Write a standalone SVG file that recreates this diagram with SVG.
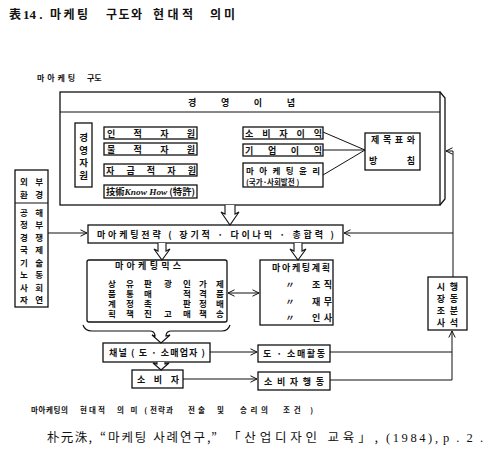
<svg xmlns="http://www.w3.org/2000/svg" width="488" height="464" viewBox="0 0 488 464">
<defs>
<style>
.b{fill:#fff;stroke:#111;stroke-width:1.3}
.l{fill:none;stroke:#111;stroke-width:1}
.h{fill:#fff;stroke:#111;stroke-width:1.1}
.t{font-family:"Noto Sans CJK KR","Noto Sans",sans-serif;font-size:9px;font-weight:700;fill:#111}
.c{text-anchor:middle}
.n{font-weight:400}
.v{writing-mode:vertical-rl;text-orientation:upright}
</style>
<marker id="a" viewBox="0 0 8 8" refX="7.5" refY="4" markerWidth="8" markerHeight="8" markerUnits="userSpaceOnUse" orient="auto-start-reverse">
<path d="M1,0.8 L7.5,4 L1,7.2" fill="none" stroke="#111" stroke-width="1"/>
</marker>
</defs>
<rect width="488" height="464" fill="#fff"/>

<g id="title" class="t" style="font-size:12px">
<text x="9" y="19">表</text>
<text x="23" y="19" style="font-family:'Liberation Serif',serif;font-size:13px">14 .</text>
<text x="50" y="19" textLength="38" lengthAdjust="spacing">마케팅</text>
<text x="106" y="19" textLength="36" lengthAdjust="spacing">구도와</text>
<text x="153" y="19" textLength="40" lengthAdjust="spacing">현대적</text>
<text x="210" y="19" textLength="25" lengthAdjust="spacing">의미</text>
</g>

<g id="structure-label" class="t" style="font-size:8px">
<text x="37" y="81" textLength="38" lengthAdjust="spacing">마아케팅</text>
<text x="87" y="81">구도</text>
</g>

<g id="mgmt-philosophy">
<rect class="b" x="60" y="92" width="380" height="113"/>
<path class="l" d="M440,92 L445,98 V199 L440,205" style="stroke-width:1.3"/>
<line class="l" x1="60" y1="112" x2="440" y2="112" style="stroke-width:1.2"/>
<text class="t" x="188" y="106" textLength="107" lengthAdjust="spacing">경영이념</text>
</g>

<g id="mgmt-resources">
<rect class="b" x="75" y="123" width="17" height="64"/>
<text class="t v" x="83.5" y="133" style="font-size:9.5px;letter-spacing:3px">경영자원</text>
</g>
<g id="human-res"><rect class="b" x="104" y="127" width="93" height="12"/><text class="t" x="107" y="136.5" textLength="88" lengthAdjust="spacing">인적자원</text></g>
<g id="material-res"><rect class="b" x="104" y="143" width="93" height="12"/><text class="t" x="107" y="152.5" textLength="88" lengthAdjust="spacing">물적자원</text></g>
<g id="capital-res"><rect class="b" x="104" y="164" width="93" height="12"/><text class="t" x="106" y="173.5" textLength="90" lengthAdjust="spacing">자금적자원</text></g>
<g id="knowhow"><rect class="b" x="104" y="185" width="93" height="13"/><text class="t" x="106" y="195" textLength="89" lengthAdjust="spacingAndGlyphs">技術<tspan style="font-family:'Liberation Serif',serif;font-style:italic">Know How</tspan> (特許)</text></g>

<g id="consumer-benefit"><rect class="b" x="243" y="127" width="80" height="12"/><text class="t" x="245" y="136.5" textLength="77" lengthAdjust="spacing">소비자이익</text></g>
<g id="corp-benefit"><rect class="b" x="243" y="144" width="80" height="12"/><text class="t" x="245" y="153.5" textLength="77" lengthAdjust="spacing">기업이익</text></g>
<g id="ethics"><rect class="b" x="243" y="163" width="80" height="24"/>
<text class="t" x="246" y="174" textLength="74" lengthAdjust="spacing" style="font-size:8.5px">마아케팅윤리</text>
<text class="t" x="246" y="185" style="font-size:7.5px">(국가·사회발전 )</text></g>
<g id="goals"><rect class="b" x="365" y="133" width="55" height="37"/>
<text class="t" x="371" y="143" textLength="44" lengthAdjust="spacing">제목표와</text>
<text class="t" x="369" y="164" textLength="46" lengthAdjust="spacing">방침</text></g>

<g id="environment" class="t" style="font-size:8.5px">
<rect class="b" x="15" y="170" width="33" height="137"/>
<line class="l" x1="15" y1="203" x2="48" y2="203" style="stroke-width:1.2"/>
<text x="20" y="185" textLength="23" lengthAdjust="spacing">외부</text>
<text x="20" y="198" textLength="23" lengthAdjust="spacing">환경</text>
<text x="20" y="216" textLength="23" lengthAdjust="spacing">공해</text>
<text x="20" y="228" textLength="23" lengthAdjust="spacing">정부</text>
<text x="20" y="240.5" textLength="23" lengthAdjust="spacing">경쟁</text>
<text x="20" y="253" textLength="23" lengthAdjust="spacing">국제</text>
<text x="20" y="265.5" textLength="23" lengthAdjust="spacing">기술</text>
<text x="20" y="278" textLength="23" lengthAdjust="spacing">노동</text>
<text x="20" y="290.5" textLength="23" lengthAdjust="spacing">사회</text>
<text x="20" y="303" textLength="23" lengthAdjust="spacing">자연</text>
</g>

<g id="strategy"><rect class="b" x="88" y="225" width="255" height="18"/>
<text class="t" x="97" y="237.5" textLength="237" lengthAdjust="spacing">마아케팅전략 ( 장기적 · 다이나믹 · 총합력 )</text></g>

<g id="marketing-mix" class="t">
<rect class="b" x="87" y="260" width="140" height="62" rx="2"/>
<path class="l" d="M83,325 Q85,331 92,331 H150 Q154,331 155,335 M166,335 Q167,331 171,331 H222 Q228,331 230,325" style="stroke-width:1.2"/>
<text x="115" y="269" textLength="66" lengthAdjust="spacing">마아케팅믹스</text>
<g class="v" style="font-size:8.5px;letter-spacing:1.5px">
<text x="112" y="280">상품계획</text>
<text x="130" y="280">유통정책</text>
<text x="148" y="280">판매촉진</text>
<text x="168" y="280">광<tspan dy="20">고</tspan></text>
<text x="187" y="280">인적판매</text>
<text x="203" y="280">가격정책</text>
<text x="220" y="280">제품배송</text>
</g>
</g>

<g id="marketing-plan" class="t">
<rect class="b" x="260" y="260" width="73" height="65"/>
<text x="272" y="271" textLength="58" lengthAdjust="spacing">마아케팅계획</text>
<text class="c" x="290" y="288">〃</text><text x="312" y="288" textLength="20" lengthAdjust="spacing">조직</text>
<text class="c" x="290" y="305">〃</text><text x="312" y="305" textLength="20" lengthAdjust="spacing">재무</text>
<text class="c" x="290" y="321">〃</text><text x="312" y="321" textLength="20" lengthAdjust="spacing">인사</text>
</g>

<g id="market-research" class="t">
<rect class="b" x="428" y="277" width="39" height="53"/>
<text class="v" x="441" y="282" style="letter-spacing:3px">시장조사</text>
<text class="v" x="454" y="282" style="letter-spacing:3px">행동분석</text>
</g>

<g id="channel"><rect class="b" x="103" y="343" width="107" height="19"/>
<text class="t" x="109" y="356" textLength="96" lengthAdjust="spacing">채널 ( 도 · 소매업자 )</text></g>
<g id="retail-activity"><rect class="b" x="258" y="345" width="72" height="17"/>
<text class="t" x="263" y="357" textLength="62" lengthAdjust="spacing">도 · 소매활동</text></g>
<g id="consumer"><rect class="b" x="132" y="370" width="51" height="18"/>
<text class="t" x="137" y="382.5" textLength="42" lengthAdjust="spacing">소비자</text></g>
<g id="consumer-behavior"><rect class="b" x="258" y="372" width="72" height="18"/>
<text class="t" x="264" y="384.5" textLength="60" lengthAdjust="spacing">소비자행동</text></g>

<g id="connectors">
<line class="l" x1="323" y1="132" x2="365" y2="150"/>
<line class="l" x1="323" y1="150" x2="365" y2="150"/>
<line class="l" x1="323" y1="175" x2="365" y2="150"/>
<path class="h" d="M225,205 V214 L221,212 L230,225 L239,212 L235,214 V205"/>
<path class="h" d="M158,243 V251 L154,249 L162,260 L170,249 L166,251 V243"/>
<path class="h" d="M294,243 V251 L290,249 L298,260 L306,249 L302,251 V243"/>
<path class="h" d="M155,335 V336 L152,335 L161,343 L170,335 L166,336 V335"/>
<path class="h" d="M157,362 V364 L153,363 L161,370 L169,363 L165,364 V362"/>
<line class="l" x1="48" y1="233" x2="87" y2="233" marker-end="url(#a)"/>
<path class="l" d="M453,233 H344" marker-end="url(#a)"/>
<path class="l" d="M453,277 V151 H446" marker-end="url(#a)"/>
<line class="l" x1="228" y1="293" x2="259" y2="293" marker-start="url(#a)" marker-end="url(#a)"/>
<line class="l" x1="210" y1="352" x2="257" y2="352" marker-end="url(#a)"/>
<line class="l" x1="330" y1="352" x2="452" y2="352"/>
<line class="l" x1="183" y1="379" x2="257" y2="379" marker-end="url(#a)"/>
<path class="l" d="M330,380 H452 V331" marker-end="url(#a)"/>
</g>

<g id="caption" class="t" style="font-size:7.5px">
<text x="31" y="413" textLength="37" lengthAdjust="spacing">마아케팅의</text>
<text x="80" y="413" textLength="25" lengthAdjust="spacing">현대적</text>
<text x="117" y="413" textLength="30" lengthAdjust="spacing">의미(</text>
<text x="150" y="413" textLength="23" lengthAdjust="spacing">전략과</text>
<text x="188" y="413" textLength="17" lengthAdjust="spacing">전술</text>
<text x="217" y="413">및</text>
<text x="240" y="413" textLength="28" lengthAdjust="spacing">승리의</text>
<text x="283" y="413" textLength="30" lengthAdjust="spacing">조건 )</text>
</g>

<g id="citation" class="t n" style="font-size:12.5px">
<text x="47" y="442" textLength="45" lengthAdjust="spacing">朴元洙,</text>
<text x="100" y="442" textLength="117" lengthAdjust="spacing">“마케팅 사례연구,”</text>
<text x="228" y="442" textLength="150" lengthAdjust="spacing">「산업디자인 교육」,</text>
<text x="386" y="442" textLength="52" lengthAdjust="spacing" style="font-family:'Liberation Serif',serif">(1984),</text>
<text x="443" y="442" textLength="40" lengthAdjust="spacing" style="font-family:'Liberation Serif',serif">p.2.</text>
</g>
</svg>
